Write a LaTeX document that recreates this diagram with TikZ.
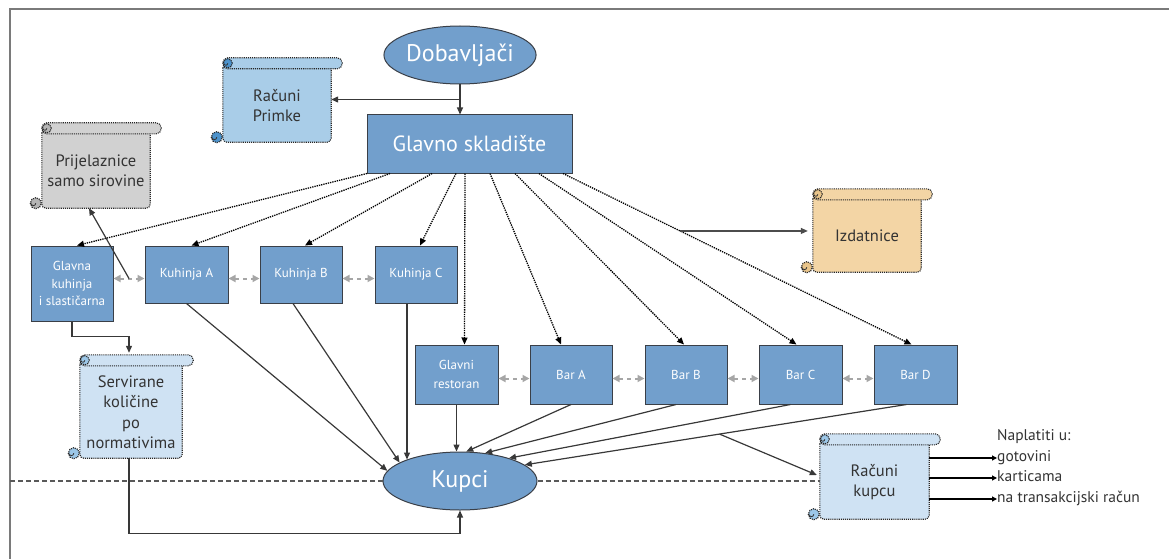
\documentclass[tikz,border=0pt]{standalone}
\usepackage{fontspec}
\setmainfont{PT Sans}
\usetikzlibrary{arrows.meta,shapes.geometric,calc,backgrounds}
\definecolor{boxblue}{HTML}{729FCC}
\definecolor{boxline}{HTML}{3A3F47}
\definecolor{scrA}{HTML}{A9CDE8}
\definecolor{scrAc}{HTML}{4D93CC}
\definecolor{scrB}{HTML}{CFE2F3}
\definecolor{scrBc}{HTML}{9CC7E8}
\definecolor{scrG}{HTML}{D1D1D1}
\definecolor{scrGc}{HTML}{B5B5B5}
\definecolor{scrT}{HTML}{F3D5A5}
\definecolor{scrTc}{HTML}{E8C48A}
\definecolor{txtdark}{HTML}{333333}
\definecolor{conncol}{HTML}{383838}
\definecolor{gdcol}{HTML}{A6A6A6}
\definecolor{framegray}{HTML}{7A7A7A}
\tikzset{
  bx/.style={draw=boxline, line width=1pt, fill=boxblue, text=white, inner sep=0pt, align=center, font=\fontsize{13}{17.5}\selectfont},
  ell/.style={ellipse, draw=boxline, line width=1pt, fill=boxblue, text=white, inner sep=0pt, font=\fontsize{24}{28}\selectfont},
  scrollnode/.style={inner sep=0pt, align=center, text=txtdark, font=\fontsize{16.5}{20.5}\selectfont},
  scrollline/.style={draw=black!85, densely dotted, line width=1.1pt},
  tipa/.style={-{Triangle[length=7pt,width=6pt]}},
  conn/.style={draw=conncol, line width=1.2pt, tipa},
  dotarrow/.style={draw=black, densely dotted, line width=1.3pt, tipa},
  gdarrow/.style={draw=gdcol, line width=2pt, dash pattern=on 4pt off 4pt, {Triangle[length=7pt,width=7pt]}-{Triangle[length=7pt,width=7pt]}},
  hdash/.style={draw=black!65, line width=1.1pt, dash pattern=on 5pt off 3pt},
  nap/.style={anchor=west, inner sep=0pt, text=txtdark, text height=8pt, text depth=2pt, font=\fontsize{15.5}{18}\selectfont},
  smalltip/.style={draw=black, line width=1.1pt, -{Triangle[length=5pt,width=5pt]}}
}
\newcommand\scrollbg[3]{%
  \path (#1.north west) coordinate (tNW) (#1.south east) coordinate (tSE)
        (#1.south west) coordinate (tSW) (#1.north east) coordinate (tNE);
  \filldraw[fill=#2, scrollline, rounded corners=4pt] ($(tNW)+(0,-5)$) -- (tSW) -- (tSE) -- ($(tNE)+(0,-5)$) -- cycle;
  \filldraw[fill=#2, scrollline, rounded corners=5pt] ($(tNW)+(0,-11)$) rectangle ($(tNE)+(11,0)$);
  \filldraw[fill=#3, scrollline] ($(tNW)+(5,-5.5)$) circle[radius=4.5pt];
  \draw[black!80, line width=0.8pt] ($(tNW)+(5,-5.5)$) arc[start angle=0, end angle=-200, radius=2pt];
  \filldraw[fill=#3, scrollline] ($(tSW)+(-6,-5)$) circle[radius=5.5pt];
  \draw[black!80, line width=0.8pt] ($(tSW)+(-6,-5)$) arc[start angle=0, end angle=-200, radius=2.5pt];
}
\begin{document}
\begin{tikzpicture}[x=1pt, y=-1pt]
\useasboundingbox (0,0) rectangle (1169,559);
\draw[framegray, line width=2pt] (1169,9) -- (10,9) -- (10,559);

% main nodes
\node[ell, minimum width=152pt, minimum height=58pt] (dob) at (460,55) {Dobavljači};
\node[bx, minimum width=205pt, minimum height=58pt, font=\fontsize{22}{26}\selectfont] (gs) at (469.5,144) {Glavno skladište};
\node[ell, minimum width=154pt, minimum height=58pt] (kupci) at (460,481) {Kupci};

\node[bx, minimum width=82pt, minimum height=75pt] (gk) at (72,283.5) {Glavna\\kuhinja\\i slastičarna};
\node[bx, minimum width=83pt, minimum height=57pt] (ka) at (186.5,274.5) {Kuhinja A};
\node[bx, minimum width=82pt, minimum height=57pt] (kb) at (301,274.5) {Kuhinja B};
\node[bx, minimum width=82pt, minimum height=57pt] (kc) at (416,274.5) {Kuhinja C};

\node[bx, minimum width=83pt, minimum height=59pt, font=\fontsize{13}{18.5}\selectfont] (gr) at (456.5,374.5) {Glavni\\restoran};
\node[bx, minimum width=82pt, minimum height=59pt] (ba) at (571,374.5) {Bar A};
\node[bx, minimum width=82pt, minimum height=59pt] (bb) at (686,374.5) {Bar B};
\node[bx, minimum width=83pt, minimum height=59pt] (bc) at (800.5,374.5) {Bar C};
\node[bx, minimum width=83pt, minimum height=59pt] (bd) at (915.5,374.5) {Bar D};

% scroll nodes
\node[scrollnode, minimum width=108pt, minimum height=73pt] (rp) at (277,105.5) {Računi\\Primke};
\node[scrollnode, minimum width=108pt, minimum height=74pt] (pr) at (96,171) {Prijelaznice\\samo sirovine};
\node[scrollnode, minimum width=108pt, minimum height=72pt] (iz) at (867,236) {Izdatnice};
\node[scrollnode, minimum width=102pt, minimum height=92pt] (sv) at (131,412) {Servirane\\količine\\po\\normativima};
\node[scrollnode, minimum width=109pt, minimum height=74pt] (rk) at (874.5,482) {Računi\\kupcu};

\begin{scope}[on background layer]
  \scrollbg{rp}{scrA}{scrAc}
  \scrollbg{pr}{scrG}{scrGc}
  \scrollbg{iz}{scrT}{scrTc}
  \scrollbg{sv}{scrB}{scrBc}
  \scrollbg{rk}{scrB}{scrBc}
\end{scope}

% Dobavljaci -> Glavno skladiste, Racuni Primke
\coordinate (dbot) at (dob.south |- gs.north);
\coordinate (jn) at ($(dob.south)!0.5!(dbot)$);
\draw[conn] (dob.south) -- (dbot);
\draw[conn] (jn) -- (jn -| rp.east);

% dotted distribution arrows
\foreach \dx/\tgt/\tx in {-102.5/gk/5, -79.5/ka/5, -37.5/kb/4, -13.5/kc/4, -4.5/gr/8, 20.5/ba/-10, 45.5/bb/-2, 69.5/bc/-4, 93.5/bd/-4}
  \draw[dotarrow] ([xshift=\dx pt]gs.south) -- ([xshift=\tx pt]\tgt.north);

% Izdatnice branch
\coordinate (s9) at ([xshift=93.5pt]gs.south);
\coordinate (e9) at ([xshift=-4pt]bd.north);
\coordinate (izb) at ($(s9)!0.336!(e9)$);
\coordinate (izt) at (izb -| iz.west);
\draw[conn, draw=black!70] (izb) -- ([xshift=-5pt]izt);

% grey double arrows, kitchen row
\path (gk.east |- ka.west) ++(0,4) coordinate (d1a);
\path (ka.west) ++(0,4) coordinate (d1b);
\path (ka.east) ++(0,4) coordinate (d2a);
\path (kb.west) ++(0,4) coordinate (d2b);
\path (kb.east) ++(0,4) coordinate (d3a);
\path (kc.west) ++(0,4) coordinate (d3b);
\draw[gdarrow] (d1a) -- (d1b);
\draw[gdarrow] (d2a) -- (d2b);
\draw[gdarrow] (d3a) -- (d3b);
% grey double arrows, bar row
\path (gr.east) ++(0,4) coordinate (e1a);
\path (ba.west) ++(0,4) coordinate (e1b);
\path (ba.east) ++(0,4) coordinate (e2a);
\path (bb.west) ++(0,4) coordinate (e2b);
\path (bb.east) ++(0,4) coordinate (e3a);
\path (bc.west) ++(0,4) coordinate (e3b);
\path (bc.east) ++(0,4) coordinate (e4a);
\path (bd.west) ++(0,4) coordinate (e4b);
\draw[gdarrow] (e1a) -- (e1b);
\draw[gdarrow] (e2a) -- (e2b);
\draw[gdarrow] (e3a) -- (e3b);
\draw[gdarrow] (e4a) -- (e4b);

% to Prijelaznice
\coordinate (m1) at ($(d1a)!0.5!(d1b)$);
\draw[conn] (m1) -- ([xshift=-7pt]pr.south);

% Glavna kuhinja -> Servirane
\coordinate (svtop) at ($(sv.north)+(-2,-13)$);
\draw[conn] (gk.south) -- ++(0,15) -| (svtop);
% Servirane -> Kupci
\coordinate (svb) at ([xshift=-2pt]sv.south);
\draw[conn] (svb) -- ++(0,75) -| (kupci.south);

% to Kupci
\draw[conn] (ka.south) -- (kupci.172);
\draw[conn] ([xshift=-8pt]kb.south) -- (kupci.163);
\coordinate (kcs) at ([xshift=-9pt]kc.south);
\draw[conn] (kcs) -- (kcs |- kupci.158);
\draw[conn] (gr.south) -- (gr.south |- kupci.north);
\draw[conn] (ba.south) -- (kupci.78);
\draw[conn] ([xshift=-10pt]bb.south) -- (kupci.48);
\draw[conn] ([xshift=-10pt]bc.south) -- (kupci.25);
\coordinate (bds) at ([xshift=-9pt]bd.south);
\draw[conn] (bds) -- (kupci.14);

% branch to Racuni kupcu
\coordinate (rkb) at ($(bds)!0.49!(kupci.14)$);
\draw[conn] (rkb) -- ($(rk.west)+(-3,-7)$);

% dashed line
\coordinate (fl) at (10,481);
\draw[hdash] (fl) -- (kupci.west);
\draw[hdash] (kupci.east) -- (kupci.east -| rk.west);

% payment options
\node[nap] (n0) at (997,437) {Naplatiti u:};
\node[nap] (n1) at (997,458) {gotovini};
\node[nap] (n2) at (997,478) {karticama};
\node[nap] (n3) at (997,499) {na transakcijski račun};
\draw[smalltip] (rk.east |- n1.west) -- (n1.west);
\draw[smalltip] (rk.east |- n2.west) -- (n2.west);
\draw[smalltip] (rk.east |- n3.west) -- (n3.west);
\end{tikzpicture}
\end{document}
